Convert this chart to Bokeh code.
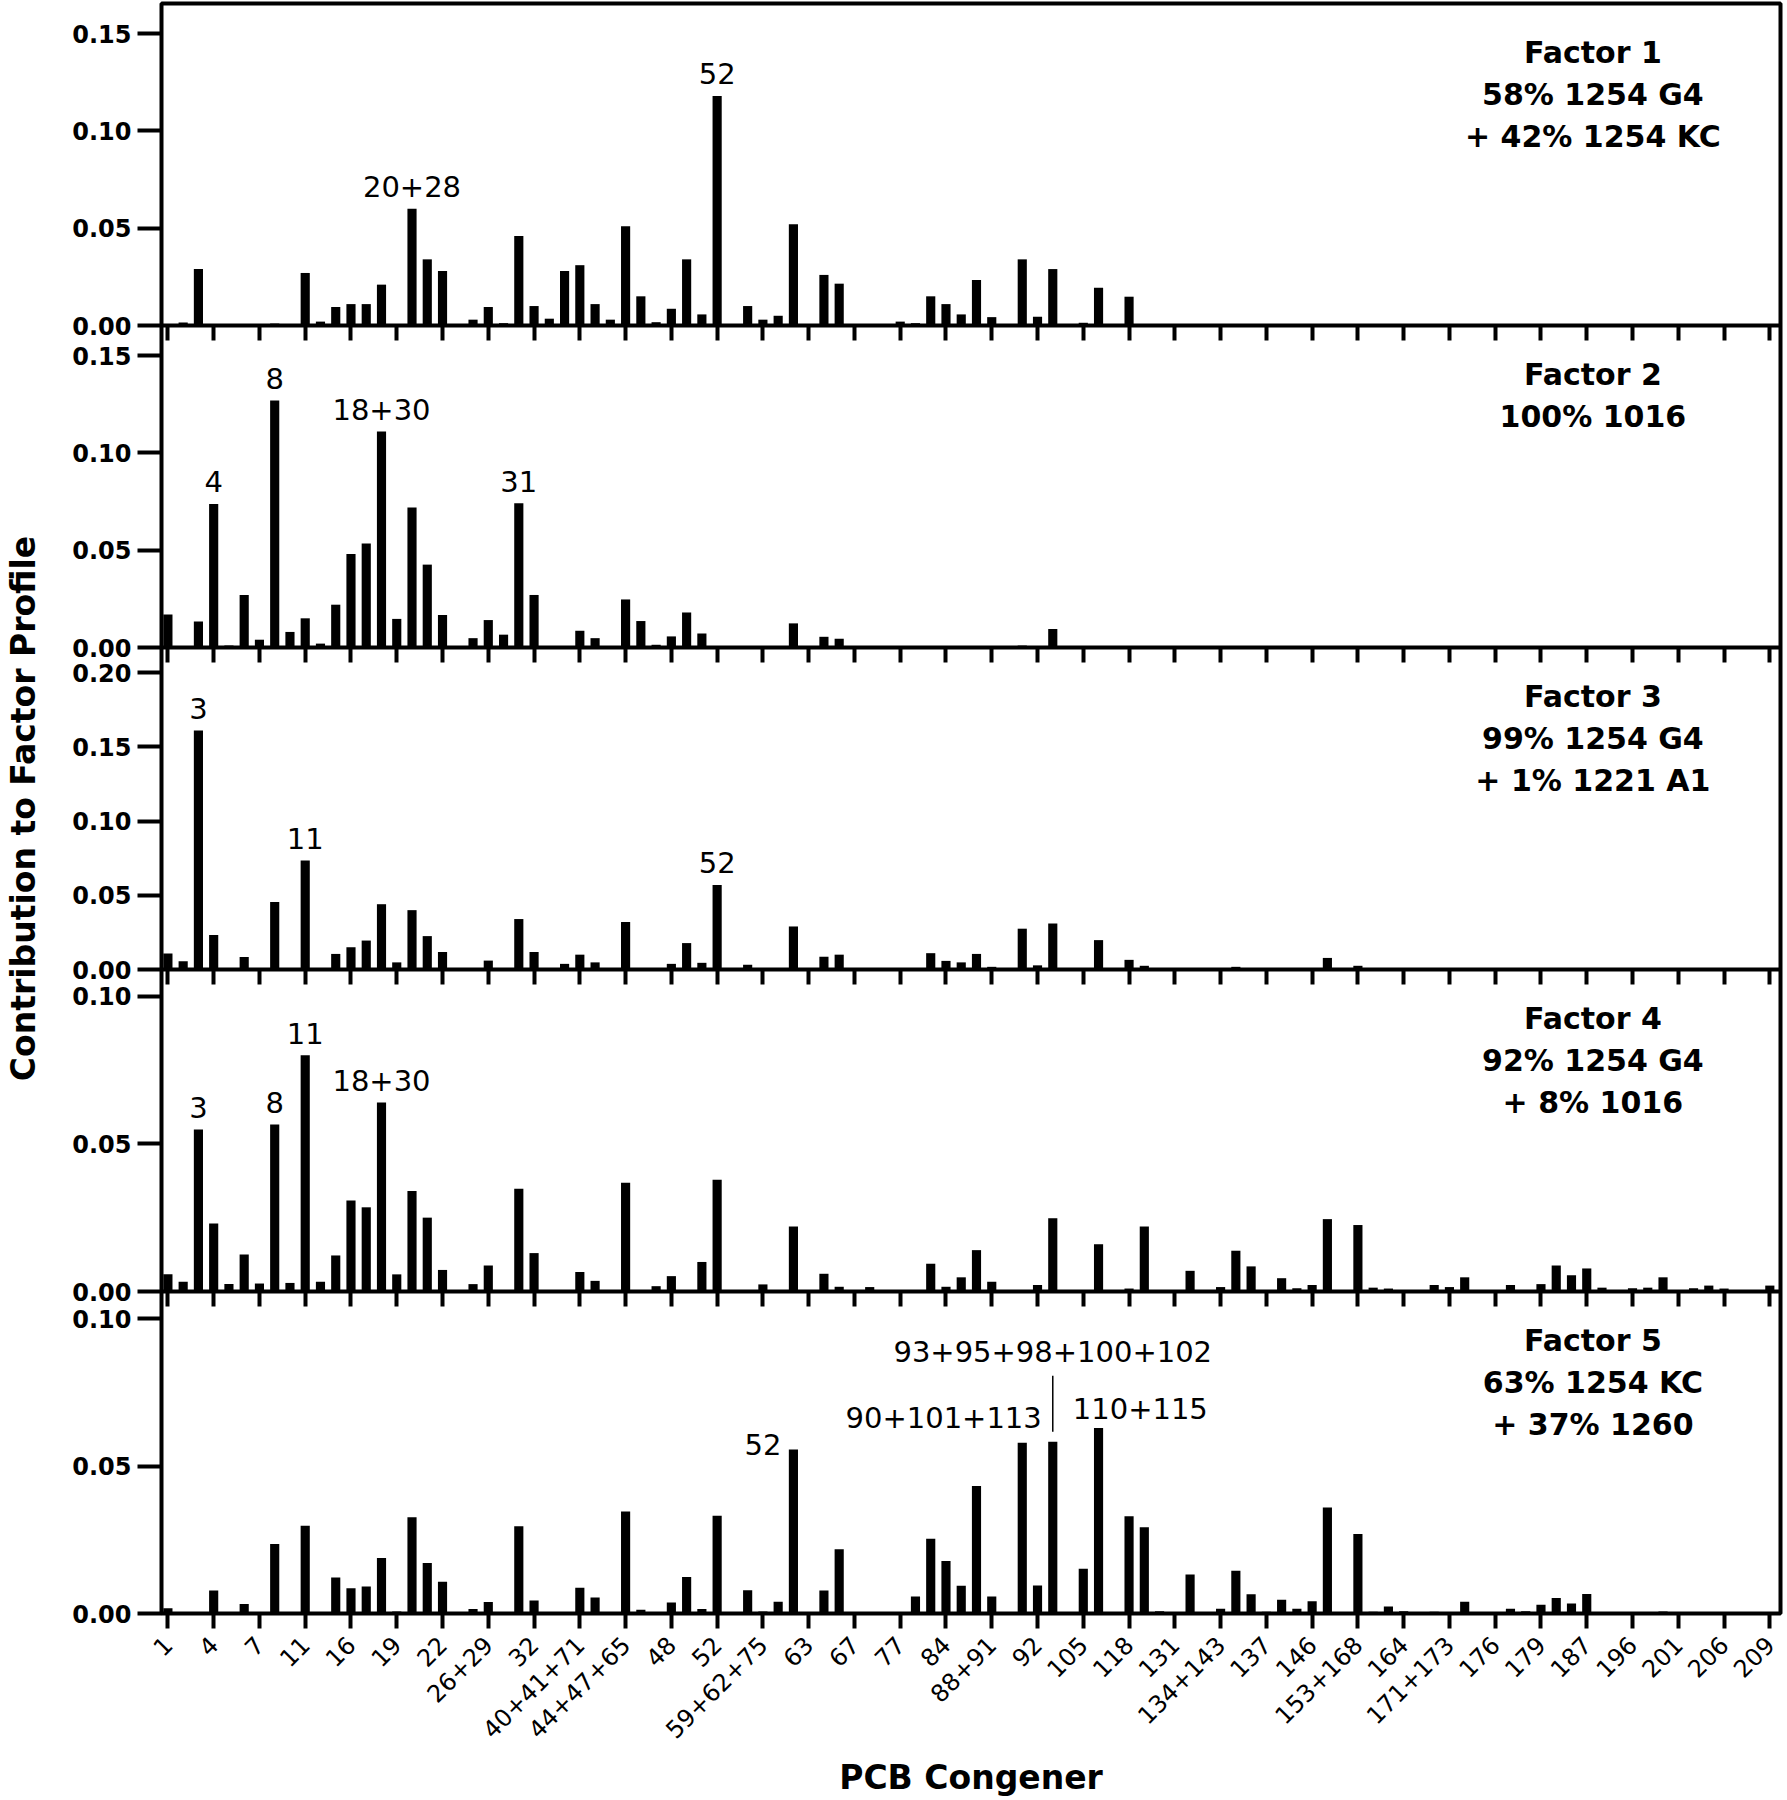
import math
from bokeh.plotting import figure
from bokeh.models import (Range1d, LinearAxis, FixedTicker, Span, CustomJSTickFormatter)
from bokeh.core.properties import value
from bokeh.embed import file_html
from bokeh.resources import INLINE

# ---------------- data ----------------
tick_labels = ["1", "4", "7", "11", "16", "19", "22", "26+29", "32", "40+41+71",
               "44+47+65", "48", "52", "59+62+75", "63", "67", "77", "84", "88+91",
               "92", "105", "118", "131", "134+143", "137", "146", "153+168", "164",
               "171+173", "176", "179", "187", "196", "201", "206", "209"]
tick_positions = list(range(0, 3 * len(tick_labels), 3))
n_bars = tick_positions[-1] + 1

factor1 = [0, 0.0015, 0.029, 0, 0, 0, 0, 0.001, 0, 0.027,
           0.002, 0.0095, 0.011, 0.011, 0.021, 0, 0.060, 0.034, 0.028, 0,
           0.003, 0.0095, 0.0012, 0.046, 0.010, 0.0035, 0.028, 0.031, 0.011, 0.003,
           0.051, 0.015, 0.0017, 0.0086, 0.034, 0.0057, 0.118, 0, 0.010, 0.003,
           0.005, 0.052, 0, 0.026, 0.0215, 0, 0, 0, 0.002, 0.0012,
           0.015, 0.011, 0.0057, 0.0234, 0.0043, 0, 0.034, 0.0045, 0.029, 0,
           0.0014, 0.0194, 0, 0.0148, 0, 0, 0, 0, 0, 0,
           0, 0, 0, 0, 0, 0, 0, 0, 0, 0,
           0, 0, 0, 0, 0, 0, 0, 0, 0, 0,
           0, 0, 0, 0, 0, 0, 0, 0, 0, 0,
           0, 0, 0, 0, 0, 0]

factor2 = [0.0169, 0, 0.0134, 0.0738, 0.001, 0.027, 0.004, 0.127, 0.008, 0.015,
           0.002, 0.022, 0.048, 0.0534, 0.111, 0.0147, 0.072, 0.0426, 0.0167, 0,
           0.0048, 0.0141, 0.0066, 0.0741, 0.027, 0, 0, 0.0086, 0.0048, 0,
           0.0247, 0.0136, 0.0014, 0.0057, 0.018, 0.0072, 0, 0, 0, 0,
           0, 0.0124, 0, 0.0055, 0.0045, 0, 0, 0, 0, 0,
           0, 0, 0, 0, 0, 0, 0.001, 0, 0.0095, 0,
           0, 0, 0, 0, 0, 0, 0, 0, 0, 0,
           0, 0, 0, 0, 0, 0, 0, 0, 0, 0,
           0, 0, 0, 0, 0, 0, 0, 0, 0, 0,
           0, 0, 0, 0, 0, 0, 0, 0, 0, 0,
           0, 0, 0, 0, 0, 0]

factor3 = [0.0108, 0.0055, 0.161, 0.0232, 0, 0.0085, 0, 0.0455, 0, 0.0735,
           0, 0.0105, 0.015, 0.0195, 0.044, 0.0048, 0.040, 0.0225, 0.0118, 0,
           0, 0.006, 0, 0.034, 0.0118, 0, 0.0038, 0.010, 0.0048, 0,
           0.032, 0, 0, 0.0038, 0.0178, 0.0045, 0.057, 0, 0.0032, 0,
           0, 0.029, 0, 0.0086, 0.010, 0, 0, 0, 0, 0,
           0.011, 0.0058, 0.0048, 0.0105, 0.0018, 0, 0.0275, 0.0028, 0.031, 0,
           0, 0.0198, 0, 0.0065, 0.0025, 0, 0, 0, 0, 0,
           0.0018, 0, 0, 0, 0, 0, 0.0078, 0, 0.0025, 0,
           0, 0, 0, 0, 0, 0, 0, 0, 0, 0,
           0, 0, 0, 0, 0, 0, 0, 0, 0, 0,
           0, 0, 0, 0, 0, 0]

factor4 = [0.0058, 0.0033, 0.0548, 0.023, 0.0025, 0.0125, 0.0027, 0.0565, 0.0029, 0.080,
           0.0033, 0.0122, 0.0308, 0.0285, 0.064, 0.0058, 0.034, 0.025, 0.0073, 0,
           0.0025, 0.0088, 0, 0.0348, 0.013, 0, 0, 0.0066, 0.0036, 0,
           0.0368, 0, 0.0018, 0.0052, 0, 0.010, 0.0378, 0, 0, 0.0024,
           0, 0.022, 0, 0.006, 0.0016, 0, 0.0015, 0, 0, 0,
           0.0094, 0.0016, 0.0048, 0.014, 0.0033, 0, 0, 0.0022, 0.0248, 0,
           0, 0.016, 0, 0.001, 0.022, 0, 0, 0.007, 0, 0.0015,
           0.0138, 0.0085, 0, 0.0045, 0.0011, 0.0022, 0.0245, 0, 0.0225, 0.0013,
           0.001, 0, 0, 0.0022, 0.0015, 0.0048, 0, 0, 0.0022, 0,
           0.0025, 0.0088, 0.0055, 0.0078, 0.0013, 0, 0.0011, 0.0013, 0.0048, 0,
           0.0011, 0.002, 0.001, 0, 0, 0.002]

factor5 = [0.0018, 0, 0, 0.0078, 0, 0.0032, 0, 0.0236, 0, 0.0298,
           0.0005, 0.0122, 0.0086, 0.0092, 0.0188, 0.0007, 0.0327, 0.0171, 0.0108, 0,
           0.0015, 0.0039, 0, 0.0296, 0.0044, 0, 0, 0.0087, 0.0054, 0,
           0.0346, 0.0013, 0.0005, 0.0037, 0.0124, 0.0015, 0.0332, 0, 0.0079, 0.0007,
           0.004, 0.0557, 0, 0.0078, 0.0218, 0, 0, 0, 0, 0.0058,
           0.0254, 0.0178, 0.0094, 0.0433, 0.0058, 0, 0.058, 0.0095, 0.0583, 0,
           0.0152, 0.063, 0, 0.033, 0.0293, 0.0008, 0, 0.0132, 0, 0.0016,
           0.0145, 0.0065, 0.0006, 0.0047, 0.0016, 0.0042, 0.036, 0, 0.027, 0.0006,
           0.0024, 0.0008, 0, 0.0006, 0, 0.004, 0, 0, 0.0016, 0.0008,
           0.003, 0.0053, 0.0034, 0.0066, 0, 0, 0, 0, 0.0007, 0,
           0, 0, 0, 0, 0, 0]

factors = [factor1, factor2, factor3, factor4, factor5]

panel_titles = [["Factor 1", "58% 1254 G4", "+ 42% 1254 KC"],
                ["Factor 2", "100% 1016"],
                ["Factor 3", "99% 1254 G4", "+ 1% 1221 A1"],
                ["Factor 4", "92% 1254 G4", "+ 8% 1016"],
                ["Factor 5", "63% 1254 KC", "+ 37% 1260"]]

y_tops = [0.1655, 0.1655, 0.217, 0.109, 0.1093]
y_ticks = [[0.0, 0.05, 0.10, 0.15],
           [0.0, 0.05, 0.10, 0.15],
           [0.0, 0.05, 0.10, 0.15, 0.20],
           [0.0, 0.05, 0.10],
           [0.0, 0.05, 0.10]]

# peak labels: (text, bar index)
peak_labels = [[("20+28", 16), ("52", 36)],
               [("4", 3), ("8", 7), ("18+30", 14), ("31", 23)],
               [("3", 2), ("11", 9), ("52", 36)],
               [("3", 2), ("8", 7), ("11", 9), ("18+30", 14)],
               [("52", 41), ("93+95+98+100+102", 58), ("90+101+113", 58), ("110+115", 58)]]
# placement styles for labels (pixel offsets dx, dy above bar top, align)
label_style = {(4, "52"): (-12, -6, "right"),
               (4, "93+95+98+100+102"): (0, 79, "center"),
               (4, "90+101+113"): (-11, 13, "right"),
               (4, "110+115"): (20, 22, "left")}
pointer_line = (4, 58, 10, 66)  # panel, bar, from px, to px above bar top

# ---------------- layout ----------------
FRAME_W, FRAME_H = 1619, 1610
PANEL_H = FRAME_H / 5.0
X_START, X_END = -0.42, 105.7
PX_X = FRAME_W / (X_END - X_START)
FONT = "DejaVu Sans"
BASE_FIX = 11  # text baseline compensation in px

p = figure(frame_width=FRAME_W, frame_height=FRAME_H,
           x_range=Range1d(X_START, X_END), y_range=Range1d(0, 5),
           output_backend="svg", toolbar_location=None,
           min_border_left=161, min_border_right=6, min_border_top=3, min_border_bottom=0)
p.outline_line_color = "black"
p.outline_line_width = 4
p.grid.visible = False
p.background_fill_color = "white"
p.border_fill_color = "white"

names = ["f%d" % (k + 1) for k in range(5)]
p.extra_y_ranges = {names[k]: Range1d(-(4 - k) * y_tops[k], (k + 1) * y_tops[k]) for k in range(5)}

# y ticks of all panels on the shared left axis
main_ticks, main_labels = [], []
for k in range(5):
    for t in y_ticks[k]:
        main_ticks.append((4 - k) + t / y_tops[k])
        main_labels.append("%.2f" % t)

for k in range(5):
    name = names[k]
    vals = factors[k]
    top = y_tops[k]
    ppu = PANEL_H / top
    xs = [i for i in range(n_bars) if vals[i] > 0]
    ts = [vals[i] for i in xs]
    p.vbar(x=xs, top=ts, bottom=0, width=0.6, y_range_name=name,
           fill_color="black", line_color=None)

    if k < 4:
        p.add_layout(Span(location=0, dimension="width", y_range_name=name,
                          line_color="black", line_width=4))
        tx = LinearAxis(y_range_name=name, fixed_location=0,
                        ticker=FixedTicker(ticks=tick_positions))
        tx.axis_line_color = None
        tx.major_tick_out = 15
        tx.major_tick_in = 0
        tx.major_tick_line_width = 4
        tx.major_tick_line_color = "black"
        tx.minor_tick_line_color = None
        tx.major_label_text_color = None
        tx.major_label_text_font_size = "0px"
        p.add_layout(tx, "below")

    # factor title
    lines = panel_titles[k]
    p.text(x=[93.4] * len(lines),
           y=[top - (60 + 42 * j - BASE_FIX) / ppu for j in range(len(lines))],
           text=lines, y_range_name=name, text_align="center", text_baseline="alphabetic",
           text_font=value(FONT), text_font_style="bold", text_font_size="30px",
           text_color="black")

    # peak labels
    for (lab, bi) in peak_labels[k]:
        dx, dy, al = label_style.get((k, lab), (0, 11, "center"))
        p.text(x=[bi + dx / PX_X], y=[vals[bi] + (dy + BASE_FIX) / ppu], text=[lab],
               y_range_name=name, text_align=al, text_baseline="alphabetic",
               text_font=value(FONT), text_font_size="29px", text_color="black")

    if pointer_line[0] == k:
        _, bi, a, b = pointer_line
        p.segment(x0=[bi], y0=[vals[bi] + a / ppu], x1=[bi], y1=[vals[bi] + b / ppu],
                  y_range_name=name, line_color="black", line_width=1.5)

# bottom x axis
xa = p.xaxis[0]
xa.ticker = FixedTicker(ticks=tick_positions)
xa.major_label_overrides = {pos: lab for pos, lab in zip(tick_positions, tick_labels)}
xa.major_label_orientation = math.pi / 4
xa.axis_line_color = None
xa.major_tick_out = 15
xa.major_tick_in = 0
xa.major_tick_line_width = 4
xa.major_tick_line_color = "black"
xa.minor_tick_line_color = None
xa.major_label_text_font = FONT
xa.major_label_text_font_size = "24px"
xa.major_label_text_color = "black"
xa.major_label_standoff = 12
xa.axis_label = "PCB Congener"
xa.axis_label_text_font = FONT
xa.axis_label_text_font_style = "bold"
xa.axis_label_text_font_size = "33px"
xa.axis_label_text_color = "black"
xa.axis_label_standoff = 9

# left axis: ticks of all five panels + title
ya = p.yaxis[0]
ya.ticker = FixedTicker(ticks=main_ticks)
ya.formatter = CustomJSTickFormatter(
    args=dict(pos=main_ticks, labs=main_labels),
    code="""
    for (let i = 0; i < pos.length; i++) {
        if (Math.abs(pos[i] - tick) < 1e-6) { return labs[i]; }
    }
    return "";
    """)
ya.axis_line_color = None
ya.major_tick_out = 24
ya.major_tick_in = 0
ya.major_tick_line_width = 4
ya.major_tick_line_color = "black"
ya.minor_tick_line_color = None
ya.major_label_text_font = FONT
ya.major_label_text_font_style = "bold"
ya.major_label_text_font_size = "24px"
ya.major_label_text_color = "black"
ya.major_label_standoff = 6
ya.axis_label = "Contribution to Factor Profile"
ya.axis_label_text_font = FONT
ya.axis_label_text_font_style = "bold"
ya.axis_label_text_font_size = "33px"
ya.axis_label_text_color = "black"
ya.axis_label_standoff = 26

open("out.html", "w").write(file_html(p, INLINE))
